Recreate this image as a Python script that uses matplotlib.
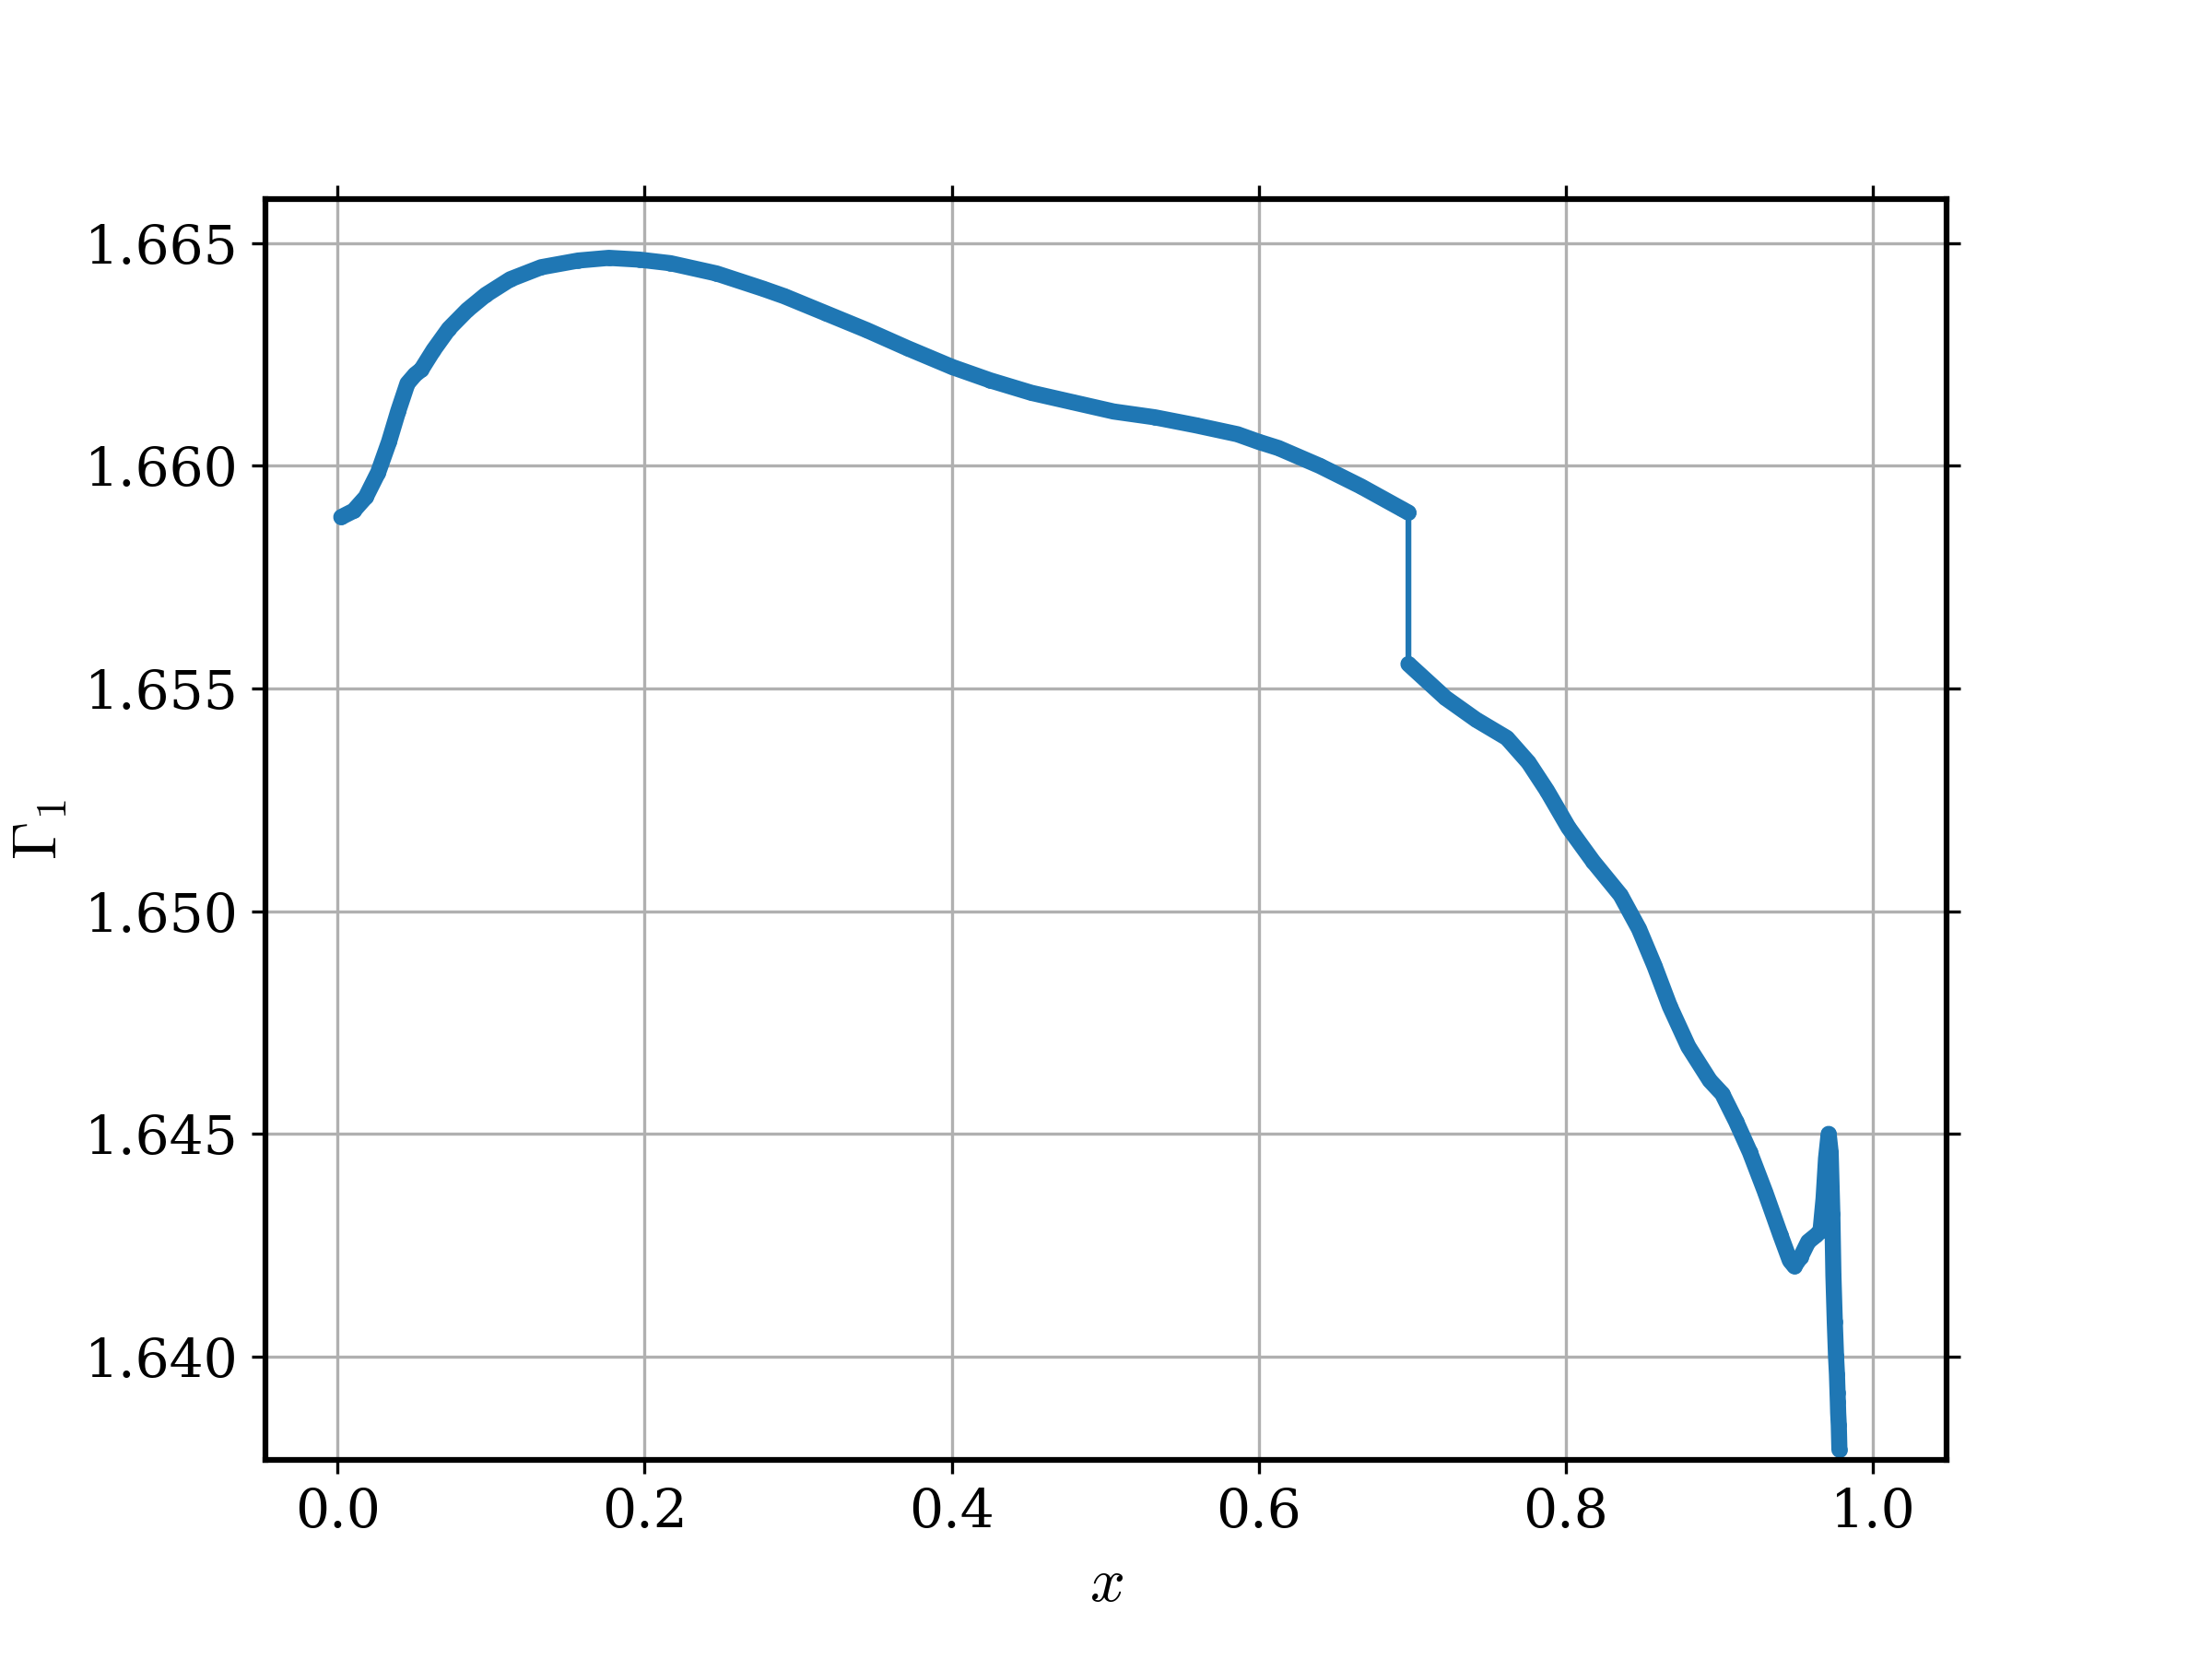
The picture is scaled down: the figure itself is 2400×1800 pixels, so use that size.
import numpy as np
from matplotlib import pyplot as plt

# Gamma_1 profile, split at the jump near x = 0.7

x_inner = [0.0024, 0.0104, 0.0184, 0.0264, 0.0335, 0.0395, 0.0455, 0.0505, 0.0545,
           0.0625, 0.0725, 0.0845, 0.0965, 0.1125, 0.1326, 0.1567, 0.1767, 0.1967,
           0.2168, 0.2468, 0.2769, 0.2909, 0.3177, 0.3445, 0.3713, 0.4003, 0.4250,
           0.4519, 0.4787, 0.5055, 0.5323, 0.5591, 0.5861, 0.5999, 0.6128, 0.6397,
           0.6665, 0.6933, 0.6975]
g_inner = [1.65885, 1.65899, 1.65930, 1.65985, 1.66054, 1.66123, 1.66185, 1.66205, 1.66216,
           1.66260, 1.66308, 1.66350, 1.66384, 1.66419, 1.66446, 1.66461, 1.66467, 1.66463,
           1.66455, 1.66432, 1.66398, 1.66381, 1.66343, 1.66305, 1.66264, 1.66222, 1.66192,
           1.66164, 1.66143, 1.66122, 1.66109, 1.66091, 1.66071, 1.66054, 1.66040, 1.66000,
           1.65954, 1.65903, 1.65895]

x_outer = [0.6975, 0.7216, 0.7416, 0.7616, 0.7757, 0.7877, 0.8017, 0.8177, 0.8357,
           0.8477, 0.8578, 0.8678, 0.8798, 0.8938, 0.9019, 0.9109, 0.9199, 0.9299,
           0.9399, 0.9459, 0.9489, 0.9529, 0.9579, 0.9629, 0.9659, 0.9679, 0.9695,
           0.9712, 0.9725, 0.9736, 0.9743, 0.9752, 0.9760, 0.9766, 0.9768, 0.9770,
           0.9772, 0.9774, 0.9778, 0.9780, 0.9782]
g_outer = [1.65555, 1.65479, 1.65430, 1.65389, 1.65334, 1.65271, 1.65188, 1.65112, 1.65036,
           1.64960, 1.64877, 1.64786, 1.64696, 1.64620, 1.64590, 1.64528, 1.64459, 1.64369,
           1.64272, 1.64216, 1.64203, 1.64223, 1.64258, 1.64272, 1.64282, 1.64355, 1.64445,
           1.64500, 1.64459, 1.64320, 1.64182, 1.64078, 1.64002, 1.63961, 1.63940, 1.63919,
           1.63898, 1.63874, 1.63846, 1.63819, 1.63791]

x = np.array(x_inner + x_outer)
gamma1 = np.array(g_inner + g_outer)

plt.rcParams['font.family'] = 'serif'
plt.rcParams['mathtext.fontset'] = 'cm'
plt.rcParams['font.size'] = 14

fig, ax = plt.subplots(figsize=(8, 6), dpi=300)
fig.subplots_adjust(left=0.12, right=0.88, bottom=0.12, top=0.88)

ax.plot(x, gamma1, '.-', color='C0')
# the dense sampling of the original makes a thick band on each branch
ax.plot(x_inner, g_inner, color='C0', lw=4.2, solid_capstyle='round', solid_joinstyle='round')
ax.plot(x_outer, g_outer, color='C0', lw=4.2, solid_capstyle='round', solid_joinstyle='round')

ax.set_xlim(-0.047, 1.048)
ax.set_ylim(1.63768, 1.66599)
ax.set_xlabel(r'$x$', fontsize=16)
ax.set_ylabel(r'$\Gamma_1$', fontsize=16)
ax.tick_params(direction='out', top=True, right=True)
for s in ax.spines.values():
    s.set_linewidth(1.5)
ax.grid()

plt.savefig('out.png', dpi=300)
